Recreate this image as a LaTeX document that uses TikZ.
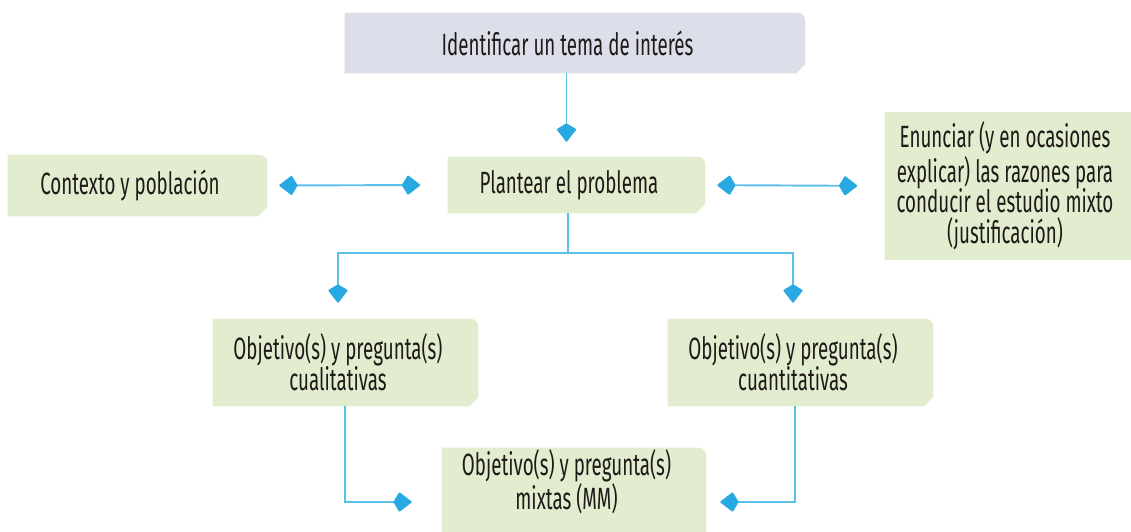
\documentclass[tikz,border=0pt]{standalone}
\usepackage{fontspec}
\setmainfont{Fira Sans}[FakeStretch=0.61]
\usepackage{xcolor}
\definecolor{pGreen}{HTML}{E2ECCF}
\definecolor{pLilac}{HTML}{DCDEEA}
\definecolor{pSky}{HTML}{5CBFEA}
\definecolor{pArrow}{HTML}{29A9E1}
\definecolor{pInk}{HTML}{1E1A17}
\usepackage{tikz}
\usetikzlibrary{arrows.meta, backgrounds, calc}

\tikzset{
  card/.style={inner sep=0pt, align=center, text=pInk,
    font=\fontsize{17.5}{17.5}\selectfont},
  link/.style={draw=pSky, line width=1.1pt,
    -{Kite[length=0.38cm, width=0.4cm, inset=0.12cm, round, color=pArrow]}},
  duo/.style={link,
    {Kite[length=0.38cm, width=0.4cm, inset=0.12cm, round, color=pArrow]}-{Kite[length=0.38cm, width=0.4cm, inset=0.12cm, round, color=pArrow]},
    shorten <=0.54cm, shorten >=0.55cm}
}

\begin{document}
\begin{tikzpicture}[x=0.02cm, y=-0.02cm]
\useasboundingbox (0,0) rectangle (1131,531);

\node[card, minimum width=8.9cm, minimum height=1.2cm] (tema) at (567.5,43) {Identificar un tema de interés};
\node[card, minimum width=4.88cm, minimum height=1.22cm] (ctx) at (130,185.5) {Contexto y población};
\node[card, minimum width=4.84cm, minimum height=1.12cm] (plan) at (569,185) {Plantear el problema};
\node[card, minimum width=4.8cm, minimum height=2.94cm] (enun) at (1005,186)
  {Enunciar (y en ocasiones\\explicar) las razones para\\conducir el estudio mixto\\(justificación)};
\node[card, minimum width=5cm, minimum height=1.74cm] (cual) at (338,362.5) {Objetivo(s) y pregunta(s)\\cualitativas};
\node[card, minimum width=5cm, minimum height=1.74cm] (cuan) at (793,362.5) {Objetivo(s) y pregunta(s)\\cuantitativas};
\node[card, minimum width=4.98cm, minimum height=1.36cm] (mix) at (566.5,482) {Objetivo(s) y pregunta(s)\\mixtas (MM)};

\begin{scope}[on background layer]
\foreach \n/\c/\d in {tema/pLilac/0, ctx/pGreen/0, plan/pGreen/0, enun/pGreen/0,
                      cual/pGreen/0, cuan/pGreen/0, mix/pGreen/0.6}
  \fill[\c] (\n.north west) -- ([xshift=0.14cm]\n.north east)
    arc[start angle=90, end angle=0, radius=0.16cm]
    -- ([xshift=0.3cm, yshift={0.18cm-\d cm}]\n.south east)
    -- ([xshift=0.12cm, yshift={-\d cm}]\n.south east)
    -- ([yshift={-\d cm}]\n.south west) -- cycle;
\end{scope}

\coordinate (split) at (568,253);

\draw[link, shorten >=0.3cm] ([xshift=-0.02cm]tema.south) -- ([xshift=-0.02cm]tema.south |- plan.north);
\draw[duo] (ctx.east) -- (plan.west);
\draw[duo] (plan.east) -- (enun.west);
\draw[pSky, line width=1.1pt] (split |- plan.south) -- (split);
\draw[link, shorten >=0.32cm] (split) -| (cual.north);
\draw[link, shorten >=0.32cm] (split) -| (cuan.north);
\draw[link, shorten >=0.6cm] ([xshift=0.14cm]cual.south) |- ([yshift=-0.4cm]mix.west);
\draw[link, shorten >=0.58cm] ([xshift=0.04cm]cuan.south) |- ([yshift=-0.4cm]mix.east);
\end{tikzpicture}
\end{document}
